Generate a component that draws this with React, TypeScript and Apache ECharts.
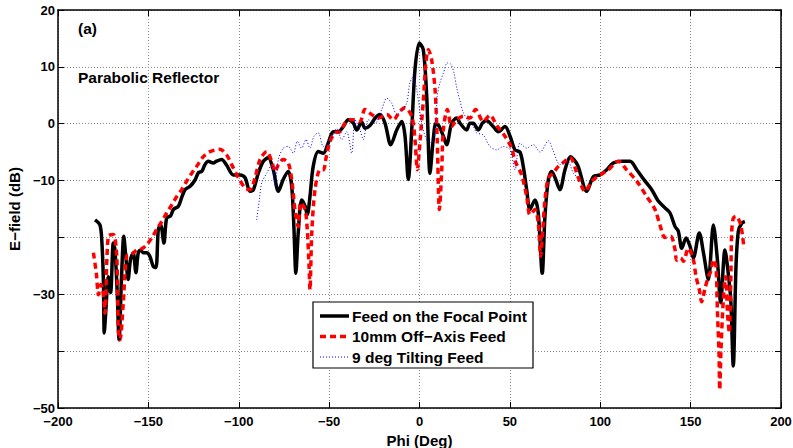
import React, { useEffect, useRef } from "react";
import * as echarts from "echarts";

const xTicks = [-200, -150, -100, -50, 0, 50, 100, 150, 200];
const yTickLabels = ["20", "10", "0", "−10", "", "−30", "", "−50"];
const seriesNames = ["Feed on the Focal Point", "10mm Off−Axis Feed", "9 deg Tilting Feed"];

const focalPoint: [number, number][] = [
  [-179.5, -16.9], [-176.8, -17.8], [-175.8, -20.4], [-174.9, -27.4], [-174.4, -36.8], [-173.5, -32.7],
  [-172.2, -26.9], [-170.9, -29.7], [-169.4, -21.0], [-168.5, -22.2], [-167.3, -29.2], [-166.2, -38.0],
  [-164.9, -27.4], [-163.6, -19.8], [-162.5, -23.3], [-161.2, -27.4], [-159.9, -23.9], [-158.4, -22.7],
  [-156.9, -26.2], [-155.6, -22.7], [-154.3, -22.2], [-152.9, -22.7], [-151, -22.7], [-149.2, -23.3],
  [-147.3, -25.1], [-145.8, -25.3], [-144.5, -18.6], [-143.2, -17.8], [-141.4, -21.0], [-139.9, -16.6],
  [-137.7, -16.2], [-136.2, -15.1], [-133.4, -14.5], [-131.6, -13.0], [-129.7, -11.6], [-126.9, -11.0],
  [-124.2, -9.9], [-122.3, -8.6], [-120.5, -8.4], [-118.7, -7.2], [-116.9, -6.6], [-114.1, -6.9],
  [-112.3, -6.6], [-109.5, -6.3], [-106.7, -7.3], [-103.0, -9.0], [-99.3, -9.0], [-96.5, -9.5],
  [-93.8, -11.9], [-91.9, -11.6], [-89.2, -8.7], [-86.4, -6.6], [-83.7, -6.0], [-80.9, -8.1],
  [-78.1, -11.9], [-75.4, -9.8], [-72.6, -8.4], [-70.7, -11.0], [-69.5, -18.1], [-68.4, -26.3],
  [-67.1, -19.2], [-65.2, -13.4], [-63.3, -14.5], [-62.1, -16.0], [-60.6, -12.8], [-58.8, -7.5],
  [-56.0, -4.9], [-53.2, -5.2], [-50.5, -3.4], [-47.7, -1.4], [-44.9, -1.4], [-42.2, -0.5],
  [-39.4, 0.7], [-36.6, 0.1], [-34.7, -1.1], [-32.0, 0.3], [-30.2, -0.8], [-27.4, -0.3],
  [-24.5, 1.0], [-21.9, 1.6], [-19.1, 0.1], [-15.9, -3.7], [-12.6, -1.1], [-9.8, 0.4],
  [-8.0, -2.2], [-6.2, -9.8], [-4.3, -1.1], [-2.5, 9.5], [-0.1, 14.2], [2.1, 13.0],
  [4.0, 4.8], [5.8, -8.7], [7.6, -2.8], [9.1, 0.1], [11.0, -0.5], [13.2, -2.2],
  [15.0, -3.7], [17.8, 0.1], [20.6, 1.0], [22.4, 0.1], [26.1, -1.1], [27.9, 0.1],
  [29.8, 0.1], [32.5, -1.1], [35.0, 0.2], [37.2, 0.5], [40.8, -0.5], [43.6, -1.4],
  [47.3, -0.5], [50.1, -2.2], [52.8, -4.6], [55.6, -5.0], [57.4, -7.5], [59.3, -11.6],
  [61.1, -15.1], [63.9, -13.4], [65.7, -15.7], [67.9, -26.3], [69.4, -16.3], [71.3, -9.8],
  [73.1, -8.4], [75.0, -9.5], [77.7, -11.6], [80.5, -8.1], [83.5, -5.8], [87.5, -7.3],
  [92.5, -11.9], [96.2, -9.3], [99.9, -9.0], [103.6, -8.1], [107.2, -6.9], [111.9, -6.6],
  [116.5, -6.6], [120.2, -8.1], [124.8, -10.1], [128.5, -11.6], [132.1, -13.6], [135.8, -14.8],
  [138.6, -15.7], [141.4, -18.1], [143.2, -18.9], [145.1, -21.9], [147.5, -20.1], [149.7, -21.6],
  [151.5, -23.6], [154.8, -19.2], [157.1, -22.7], [159.8, -27.4], [162.6, -17.8], [164.8, -23.9],
  [166.6, -31.5], [169.0, -22.2], [170.8, -26.3], [172.2, -30.9], [173.6, -42.6], [175.1, -25.1],
  [176.4, -18.9], [178.3, -17.5], [180, -17.2],
];

const offAxis: [number, number][] = [
  [-180.4, -22.7], [-178.8, -26.3], [-177.6, -30.1], [-176.3, -28.3], [-175.2, -29.2], [-174.0, -33.3],
  [-172.2, -19.8], [-169.4, -19.5], [-167.5, -23.3], [-166.6, -36.3], [-165.7, -38.0], [-163.9, -31.6],
  [-162.0, -23.3], [-159.2, -23.0], [-156.5, -22.2], [-153.7, -22.0], [-150.9, -21.3], [-148.2, -20.1],
  [-145.4, -18.6], [-142.6, -17.2], [-139.9, -15.7], [-137.1, -14.3], [-134.3, -12.8], [-131.6, -11.6],
  [-128.8, -10.1], [-126.0, -8.7], [-123.3, -7.5], [-119.6, -5.8], [-115.9, -4.9], [-110.4, -4.5],
  [-106.7, -5.5], [-103.9, -7.2], [-100.2, -9.5], [-96.5, -11.3], [-93.8, -11.6], [-91.0, -9.5],
  [-88.2, -6.3], [-84.5, -4.9], [-81.8, -6.6], [-79.9, -8.4], [-78.1, -7.2], [-75.4, -6.3],
  [-72.6, -6.9], [-70.7, -9.8], [-68.9, -15.1], [-67.1, -18.1], [-65.7, -13.9], [-63.3, -15.1],
  [-62.1, -18.6], [-61.1, -25.1], [-60.6, -29.2], [-59.6, -19.2], [-57.8, -11.6], [-55.0, -8.1],
  [-53.2, -8.1], [-51.7, -6.0], [-49.5, -3.1], [-46.7, -1.6], [-44.0, -1.4], [-41.2, 0.1],
  [-38.5, 0.7], [-35.7, 0.7], [-32.9, 0.4], [-30.2, 2.5], [-26.4, 1.6], [-22.8, 1.0],
  [-18.1, 1.6], [-14.5, 0.7], [-10.8, 2.2], [-8.0, 2.8], [-4.3, 1.3], [-2.5, -2.8],
  [-1.2, -8.1], [0.3, -3.0], [2.1, 4.0], [3.5, 10.5], [4.9, 13.0], [6.7, 11.3],
  [8.6, 6.0], [9.8, -2.8], [11.0, -15.1], [12.3, -8.1], [13.2, -1.1], [15.4, 2.5],
  [17.8, -0.5], [20.6, 0.7], [24.2, 1.3], [27.9, 1.0], [31.0, 2.5], [35.3, 0.4],
  [39.0, 1.5], [42.7, -0.3], [47.3, -2.2], [51.0, -4.3], [52.8, -6.5], [56.5, -9.0],
  [59.3, -12.8], [61.1, -16.0], [63.9, -15.1], [65.7, -17.5], [67.0, -23.3], [68.1, -19.2],
  [69.4, -13.4], [71.3, -9.5], [74.0, -8.7], [76.8, -7.5], [80.5, -6.6], [83.3, -6.0],
  [87.9, -9.5], [91.6, -11.9], [95.3, -10.1], [99.9, -9.0], [104.5, -8.1], [110.0, -6.6],
  [114.6, -8.1], [120.2, -10.1], [125.7, -12.8], [130.3, -15.1], [133.1, -17.9], [135.8, -20.0],
  [139.0, -19.8], [141.4, -22.2], [142.3, -24.0], [144.5, -23.6], [146.0, -24.2], [148.7, -21.9],
  [151.5, -23.9], [153.0, -26.9], [154.8, -29.2], [156.1, -31.3], [158.0, -28.9], [159.8, -26.9],
  [161.1, -26.0], [162.6, -23.9], [164.0, -25.1], [164.8, -32.7], [165.7, -40.4], [166.1, -46.8],
  [166.8, -39.7], [168.1, -30.9], [169.4, -26.9], [170.5, -33.9], [171.4, -36.8], [172.2, -28.0],
  [172.7, -19.2], [173.6, -16.6], [175.1, -16.3], [177.7, -17.8], [179.5, -21.9],
];

const tilting: [number, number][] = [
  [-90.1, -16.9], [-88.6, -13.4], [-87.3, -10.4], [-84.5, -8.7], [-81.8, -7.2], [-79.9, -11.0],
  [-78.1, -6.3], [-75.4, -4.3], [-72.6, -4.0], [-69.8, -5.2], [-67.6, -3.1], [-65.2, -4.3],
  [-62.8, -2.8], [-60.6, -4.3], [-58.4, -2.2], [-56.0, -1.6], [-53.2, -4.0], [-50.5, -3.4],
  [-47.7, -1.9], [-45.8, -0.8], [-43.0, -2.8], [-40.3, -1.4], [-37.5, -5.2], [-35.7, 0.7],
  [-32.9, -1.1], [-31.1, -2.8], [-28.3, 0.7], [-24.6, 0.1], [-20.9, 2.5], [-18.1, 4.5],
  [-15.4, 3.6], [-12.6, 1.6], [-9.8, 2.5], [-7.1, 3.6], [-5.3, 7.2], [-3.4, 8.3],
  [-1.5, 6.0], [0.3, 1.9], [2.1, -1.1], [4.0, -2.8], [6.7, -3.4], [8.6, -1.6],
  [9.8, 4.8], [11.3, 7.2], [13.2, 8.9], [15.4, 10.7], [17.3, 10.5], [19.1, 8.9],
  [20.6, 6.3], [22.4, 4.0], [24.2, 2.0], [27.0, 0.5], [29.8, -0.5], [31.6, -1.6],
  [35.3, -2.0], [39.0, -4.0], [42.7, -4.6], [46.4, -4.0], [50.1, -4.6], [52.8, -8.1],
  [55.6, -3.4], [59.3, -4.3], [63.0, -3.7], [66.7, -5.0], [71.3, -3.0], [74.0, -4.8],
  [77.7, -7.2], [81.5, -6.3], [85.1, -8.7], [87.0, -9.3],
];

const FONT = "Liberation Sans";

export default function App() {
  const ref = useRef<HTMLDivElement>(null);
  useEffect(() => {
    if (!ref.current) return;
    const chart = echarts.init(ref.current, null, { renderer: "svg" });
    const labelStyle = { fontFamily: FONT, fontWeight: "bold" as const, fontSize: 13, color: "#000" };
    const gridDots = { show: true, lineStyle: { type: [1, 2], color: "#888", width: 1 } };
    const yLabel = (v: number) => {
      const idx = Math.round((20 - v) / 10);
      return yTickLabels[idx] ?? "";
    };
    const xLabel = (v: number) => (xTicks.includes(v) ? String(v).replace("-", "−") : "");
    const legendY = [316, 336.5, 357];
    const legendGraphics: any[] = [
      { type: "rect", z: 100, shape: { x: 313, y: 302, width: 220, height: 66 }, style: { fill: "#fff", stroke: "#000", lineWidth: 1.2 } },
      { type: "line", z: 101, shape: { x1: 320, y1: legendY[0], x2: 349, y2: legendY[0] }, style: { stroke: "#000", lineWidth: 3.5 } },
      { type: "line", z: 101, shape: { x1: 320, y1: legendY[1], x2: 349, y2: legendY[1] }, style: { stroke: "#ff0000", lineWidth: 3.5, lineDash: [6, 4] } },
      { type: "line", z: 101, shape: { x1: 320, y1: legendY[2], x2: 349, y2: legendY[2] }, style: { stroke: "#0000ff", lineWidth: 1, lineDash: [1, 2] } },
    ];
    seriesNames.forEach((n, i) => {
      legendGraphics.push({
        type: "text", z: 101, x: 352, y: legendY[i],
        style: { text: n, font: `bold 15.5px '${FONT}'`, fill: "#000", textVerticalAlign: "middle" },
      });
    });
    chart.setOption({
      animation: false,
      backgroundColor: "#fff",
      grid: { left: 58, top: 10, right: 12, bottom: 40, containLabel: false, outerBoundsMode: "none" },
      xAxis: [
        {
          type: "value", min: -200, max: 200, interval: 50, position: "bottom",
          name: "Phi (Deg)", nameLocation: "middle", nameGap: 20,
          nameTextStyle: { fontFamily: FONT, fontWeight: "bold", fontSize: 15, color: "#000" },
          axisLine: { show: true, onZero: false, lineStyle: { color: "#000", width: 1.5 } },
          axisTick: { show: true, inside: true, length: 6, lineStyle: { color: "#000", width: 1 } },
          axisLabel: { ...labelStyle, margin: 7, formatter: xLabel },
          splitLine: gridDots,
        },
        {
          type: "value", min: -200, max: 200, interval: 50, position: "top",
          axisLine: { show: true, onZero: false, lineStyle: { color: "#000", width: 1.5 } },
          axisTick: { show: true, inside: true, length: 6, lineStyle: { color: "#000", width: 1 } },
          axisLabel: { show: false },
          splitLine: { show: false },
        },
      ],
      yAxis: [
        {
          type: "value", min: -50, max: 20, interval: 10, position: "left",
          name: "E−field (dB)", nameLocation: "middle", nameGap: 31,
          nameTextStyle: { fontFamily: FONT, fontWeight: "bold", fontSize: 15, color: "#000" },
          axisLine: { show: true, onZero: false, lineStyle: { color: "#000", width: 1.5 } },
          axisTick: { show: true, inside: true, length: 6, lineStyle: { color: "#000", width: 1 } },
          axisLabel: { ...labelStyle, margin: 3, formatter: yLabel },
          splitLine: gridDots,
        },
        {
          type: "value", min: -50, max: 20, interval: 10, position: "right",
          axisLine: { show: true, onZero: false, lineStyle: { color: "#000", width: 1.5 } },
          axisTick: { show: true, inside: true, length: 6, lineStyle: { color: "#000", width: 1 } },
          axisLabel: { show: false },
          splitLine: { show: false },
        },
      ],
      series: [
        {
          name: seriesNames[0], type: "line", data: focalPoint, showSymbol: false, smooth: 0.3,
          lineStyle: { color: "#000", width: 3.5 }, z: 3,
        },
        {
          name: seriesNames[1], type: "line", data: offAxis, showSymbol: false, smooth: 0.3,
          lineStyle: { color: "#ff0000", width: 3.5, type: [6, 4], cap: "butt" }, z: 4,
        },
        {
          name: seriesNames[2], type: "line", data: tilting, showSymbol: false, smooth: 0.3,
          lineStyle: { color: "#0000ff", width: 1, type: [1, 2] }, z: 5,
        },
      ],
      graphic: [
        { type: "text", x: 78, y: 28, style: { text: "(a)", font: `bold 15.5px '${FONT}'`, fill: "#000", textVerticalAlign: "middle" } },
        { type: "text", x: 78, y: 77.5, style: { text: "Parabolic Reflector", font: `bold 15.5px '${FONT}'`, fill: "#000", textVerticalAlign: "middle" } },
        ...legendGraphics,
      ],
    });
    return () => chart.dispose();
  }, []);
  return <div ref={ref} style={{ position: "fixed", left: 0, top: 0, width: 793, height: 448, background: "#fff" }} />;
}
